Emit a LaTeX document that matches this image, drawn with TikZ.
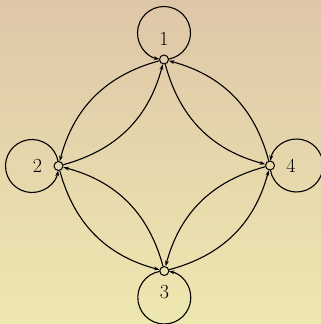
\documentclass[tikz,border=0pt]{standalone}
\usetikzlibrary{arrows.meta,calc}
\definecolor{bgtop}{RGB}{222,199,168}
\definecolor{bgbot}{RGB}{238,231,176}
\begin{document}
\begin{tikzpicture}[x=1pt,y=1pt,
  state/.style={circle,draw,line width=1pt,inner sep=0pt,minimum size=9pt},
  lbl/.style={font=\fontsize{20}{24}\selectfont},
  arr/.style={line width=1.1pt,-{Stealth[length=5.5pt,width=3.8pt]}}]
\shade[top color=bgtop,bottom color=bgbot] (0,0) rectangle (321,324);
\useasboundingbox (0,0) rectangle (321,324);
\node[state] (n1) at (164,264.5) {};
\node[state] (n2) at (58.5,158) {};
\node[state] (n3) at (164.3,53) {};
\node[state] (n4) at (270,158.5) {};
\node[lbl] (l1) at (164,285.5) {1};
\node[lbl] (l2) at (37.5,158) {2};
\node[lbl] (l3) at (164.5,32) {3};
\node[lbl] (l4) at (291,158) {4};
% loops
\draw[arr] ($(n1.center)+(0,26.5)+(-80:26.5)$) arc[start angle=-80, end angle=260, radius=26.5];
\draw[arr] ($(n2.center)+(-26.5,0)+(10:26.5)$) arc[start angle=10, end angle=350, radius=26.5];
\draw[arr] ($(n3.center)+(0,-26.5)+(100:26.5)$) arc[start angle=100, end angle=440, radius=26.5];
\draw[arr] ($(n4.center)+(26.5,0)+(190:26.5)$) arc[start angle=190, end angle=530, radius=26.5];
% edges
\draw[arr] (n1) to[bend right=30] (n2);
\draw[arr] (n2) to[bend right=30] (n1);
\draw[arr] (n2) to[bend right=30] (n3);
\draw[arr] (n3) to[bend right=30] (n2);
\draw[arr] (n3) to[bend right=30] (n4);
\draw[arr] (n4) to[bend right=30] (n3);
\draw[arr] (n4) to[bend right=30] (n1);
\draw[arr] (n1) to[bend right=30] (n4);
\end{tikzpicture}
\end{document}
